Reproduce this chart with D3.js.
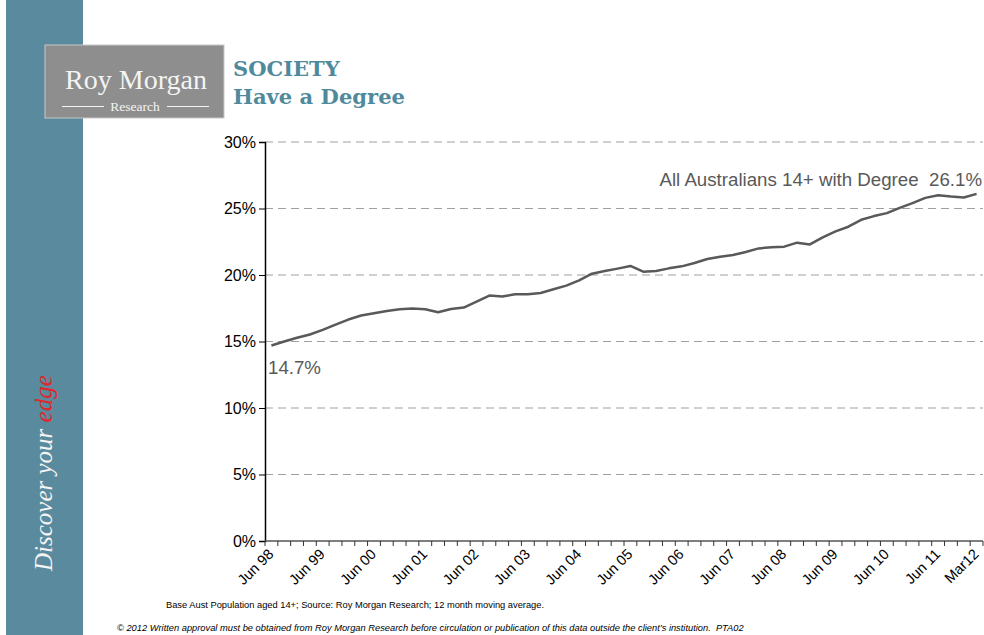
<!DOCTYPE html>
<html>
<head>
<meta charset="utf-8">
<script src="https://d3js.org/d3.v7.min.js"></script>
<style>
  body { margin: 0; background: #fff; }
  svg { display: block; }
  .axis text { font: 16px "Liberation Sans", Arial, sans-serif; fill: #000; }
  .xaxis text { font: 14.5px "Liberation Sans", Arial, sans-serif; fill: #000; }
</style>
</head>
<body>
<div id="chart"></div>
<script>
// quarterly periods, Jun 98 .. Mar 12
var quarters = ["Jun 98","Sep 98","Dec 98","Mar 99","Jun 99","Sep 99","Dec 99","Mar 00",
  "Jun 00","Sep 00","Dec 00","Mar 01","Jun 01","Sep 01","Dec 01","Mar 02",
  "Jun 02","Sep 02","Dec 02","Mar 03","Jun 03","Sep 03","Dec 03","Mar 04",
  "Jun 04","Sep 04","Dec 04","Mar 05","Jun 05","Sep 05","Dec 05","Mar 06",
  "Jun 06","Sep 06","Dec 06","Mar 07","Jun 07","Sep 07","Dec 07","Mar 08",
  "Jun 08","Sep 08","Dec 08","Mar 09","Jun 09","Sep 09","Dec 09","Mar 10",
  "Jun 10","Sep 10","Dec 10","Mar 11","Jun 11","Sep 11","Dec 11","Mar12"];

// % of Australians 14+ with a degree (12 month moving average)
var degreePct = [14.7, 15.0, 15.28, 15.53, 15.87, 16.27, 16.65, 16.95,
  17.12, 17.3, 17.43, 17.48, 17.43, 17.2, 17.45, 17.55,
  18.0, 18.45, 18.38, 18.55, 18.55, 18.65, 18.93, 19.2,
  19.6, 20.1, 20.3, 20.48, 20.68, 20.25, 20.3, 20.5,
  20.65, 20.9, 21.2, 21.37, 21.5, 21.73, 22.0, 22.08,
  22.13, 22.43, 22.3, 22.83, 23.28, 23.63, 24.15, 24.43,
  24.65, 25.05, 25.4, 25.8, 26.0, 25.9, 25.83, 26.1];

var yTicks = [0, 5, 10, 15, 20, 25, 30];
var xLabels = ["Jun 98","Jun 99","Jun 00","Jun 01","Jun 02","Jun 03","Jun 04",
  "Jun 05","Jun 06","Jun 07","Jun 08","Jun 09","Jun 10","Jun 11","Mar12"];

var W = 984, H = 635;
var plot = {left: 265, right: 983, top: 142, bottom: 541};

var svg = d3.select("#chart").append("svg")
  .attr("width", W).attr("height", H);

// left sidebar
svg.append("rect").attr("x", 6).attr("y", 0).attr("width", 77).attr("height", H)
  .attr("fill", "#5a8a9d");

// logo box
svg.append("rect").attr("x", 45).attr("y", 45).attr("width", 179).attr("height", 73)
  .attr("fill", "#8e8e8e").attr("stroke", "#c8c8c8").attr("stroke-width", 1);
svg.append("text").attr("x", 136).attr("y", 89).attr("text-anchor", "middle")
  .style("font", "28px 'Liberation Serif', 'DejaVu Serif', serif").style("fill", "#f4f4f4")
  .text("Roy Morgan");
svg.append("text").attr("x", 135).attr("y", 111).attr("text-anchor", "middle")
  .style("font", "13.5px 'Liberation Serif', serif").style("fill", "#f4f4f4")
  .text("Research");
svg.append("line").attr("x1", 62).attr("x2", 104).attr("y1", 106.5).attr("y2", 106.5)
  .attr("stroke", "#f4f4f4").attr("stroke-width", 1);
svg.append("line").attr("x1", 167).attr("x2", 209).attr("y1", 106.5).attr("y2", 106.5)
  .attr("stroke", "#f4f4f4").attr("stroke-width", 1);

// titles
svg.append("text").attr("x", 233).attr("y", 76)
  .style("font", "bold 21px 'DejaVu Serif', serif").style("fill", "#4f8a9c")
  .text("SOCIETY");
svg.append("text").attr("x", 233).attr("y", 104)
  .style("font", "bold 21px 'DejaVu Serif', serif").style("fill", "#4f8a9c")
  .attr("textLength", 172).attr("lengthAdjust", "spacingAndGlyphs")
  .text("Have a Degree");

// vertical tagline
var tag = svg.append("text")
  .attr("transform", "translate(52,571) rotate(-90)")
  .style("font", "italic 25px 'Liberation Serif', 'DejaVu Serif', serif")
  .style("fill", "#f4f4f4");
tag.append("tspan").text("Discover your ");
tag.append("tspan").style("fill", "#e0262b").text("edge");

// scales
var x = d3.scaleBand().domain(quarters).range([plot.left, plot.right]);
var y = d3.scaleLinear().domain([0, 30]).range([plot.bottom, plot.top]);

// gridlines
svg.append("g").selectAll("line").data(yTicks.filter(function(d) { return d > 0; }))
  .enter().append("line")
    .attr("x1", plot.left).attr("x2", plot.right)
    .attr("y1", function(d) { return y(d); }).attr("y2", function(d) { return y(d); })
    .attr("stroke", "#a0a0a0").attr("stroke-width", 1)
    .attr("stroke-dasharray", "8,5");

// y axis
var yAxis = svg.append("g").attr("class", "axis")
  .attr("transform", "translate(" + plot.left + ",0)")
  .call(d3.axisLeft(y).tickValues(yTicks).tickSize(6).tickPadding(3)
    .tickFormat(function(d) { return d + "%"; }));
yAxis.select(".domain").attr("stroke", "#000").attr("stroke-width", 1.5);
yAxis.selectAll(".tick line").attr("stroke", "#000");

// x axis: ticks at category boundaries
var bounds = quarters.map(function(q) { return x(q); }).concat([plot.right]);
var xg = svg.append("g").attr("class", "xaxis");
xg.append("line").attr("x1", plot.left).attr("x2", plot.right)
  .attr("y1", plot.bottom).attr("y2", plot.bottom)
  .attr("stroke", "#555").attr("stroke-width", 1.5);
xg.selectAll(".tk").data(bounds).enter().append("line")
  .attr("x1", function(d) { return d; }).attr("x2", function(d) { return d; })
  .attr("y1", plot.bottom).attr("y2", plot.bottom + 5)
  .attr("stroke", "#333").attr("stroke-width", 1);
xg.selectAll("text").data(xLabels).enter().append("text")
  .attr("transform", function(d) {
    var cx = x(d) + x.bandwidth() / 2;
    return "translate(" + (cx + 3) + "," + (plot.bottom + 14) + ") rotate(-45)";
  })
  .attr("text-anchor", "end")
  .text(function(d) { return d; });

// line
var line = d3.line()
  .x(function(d, i) { return x(quarters[i]) + x.bandwidth() / 2; })
  .y(function(d) { return y(d); });
svg.append("path").datum(degreePct)
  .attr("d", line)
  .attr("fill", "none").attr("stroke", "#595959").attr("stroke-width", 2.5)
  .attr("stroke-linejoin", "round");

// annotations
svg.append("text").attr("x", 268).attr("y", 374)
  .style("font", "18.7px 'Liberation Sans', Arial, sans-serif").style("fill", "#595959")
  .text(degreePct[0] + "%");
svg.append("text").attr("x", 982).attr("y", 186).attr("text-anchor", "end")
  .style("font", "18.7px 'Liberation Sans', Arial, sans-serif").style("fill", "#595959")
  .attr("xml:space", "preserve")
  .text("All Australians 14+ with Degree  " + degreePct[degreePct.length - 1].toFixed(1) + "%");

// footers
svg.append("text").attr("x", 166).attr("y", 608)
  .style("font", "9.3px 'Liberation Sans', Arial, sans-serif").style("fill", "#000")
  .text("Base Aust Population aged 14+; Source: Roy Morgan Research; 12 month moving average.");
svg.append("text").attr("x", 117).attr("y", 631)
  .style("font", "italic 9.3px 'Liberation Sans', Arial, sans-serif").style("fill", "#000")
  .attr("xml:space", "preserve")
  .text("\u00a9 2012 Written approval must be obtained from Roy Morgan Research before circulation or publication of this data outside the client\u2019s institution.  PTA02");
</script>
</body>
</html>
